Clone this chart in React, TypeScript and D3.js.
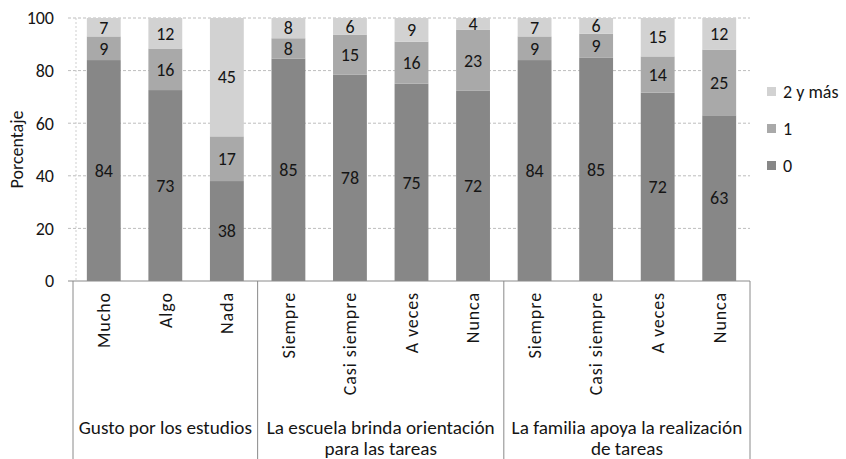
import React, { useRef, useEffect } from 'react';
import * as d3 from 'd3';

// categories and groups
const categories = ['Mucho', 'Algo', 'Nada', 'Siempre', 'Casi siempre', 'A veces', 'Nunca', 'Siempre', 'Casi siempre', 'A veces', 'Nunca'];
const groups = [
  { lines: ['Gusto por los estudios'], span: 3 },
  { lines: ['La escuela brinda orientación', 'para las  tareas'], span: 4 },
  { lines: ['La familia apoya la realización', 'de tareas'], span: 4 },
];
const seriesNames = ['0', '1', '2 y más'];
// percentages (labels show the rounded value)
const values0 = [84, 72.6, 38, 84.6, 78.4, 75, 72.3, 84, 85, 71.6, 63];
const values1 = [9, 15.8, 17, 7.7, 15.3, 16, 23.3, 9, 9, 13.8, 25];
const values2 = [7, 11.6, 45, 7.7, 6.3, 9, 4.4, 7, 6, 14.6, 12];
const yTicks = [0, 20, 40, 60, 80, 100];

const colors = ['#878787', '#a9a9a9', '#d2d2d2'];
const font = 'Carlito, Lato, "Open Sans", sans-serif';
const ink = '#151515';

const App = () => {
  const svgRef = useRef<SVGSVGElement>(null);

  useEffect(() => {
    const svg = d3.select(svgRef.current);
    svg.selectAll('*').remove();

    const left = 73, right = 750, top = 18, bottom = 281;
    const idx = categories.map((_, i) => i);
    const x = d3.scaleBand<number>().domain(idx).range([left, right]).paddingInner(0.45).paddingOuter(0.225);
    const step = x.step();
    const y = d3.scaleLinear().domain([0, 100]).range([bottom, top]).clamp(true);

    // gridlines
    svg.append('g').selectAll('line').data(yTicks.filter(t => t > 0)).enter().append('line')
      .attr('x1', left - 5).attr('x2', right)
      .attr('y1', d => y(d)).attr('y2', d => y(d))
      .attr('stroke', '#bdbdbd').attr('stroke-dasharray', '3,2');

    // inner dotted axis line
    svg.append('line').attr('x1', left + 3).attr('x2', left + 3).attr('y1', top).attr('y2', bottom)
      .attr('stroke', '#cfcfcf').attr('stroke-dasharray', '2,2');

    // y tick labels
    svg.append('g').selectAll('text').data(yTicks).enter().append('text')
      .attr('x', 54).attr('y', d => y(d)).attr('dy', '0.35em')
      .attr('text-anchor', 'end').attr('font-size', 18).attr('fill', ink).attr('font-family', font)
      .text(d => d);

    svg.append('text').attr('transform', `translate(17,${(top + bottom) / 2}) rotate(-90)`)
      .attr('text-anchor', 'middle').attr('dy', '0.35em').attr('font-size', 18).attr('fill', ink)
      .attr('font-family', font).text('Porcentaje');

    // stacked bars
    const rows = idx.map(i => ({ i, s0: values0[i], s1: values1[i], s2: values2[i] }));
    const stack = d3.stack<any>().keys(['s0', 's1', 's2'])(rows);
    stack.forEach((layer, k) => {
      const g = svg.append('g');
      g.selectAll('rect').data(layer).enter().append('rect')
        .attr('x', d => x(d.data.i)!)
        .attr('width', x.bandwidth())
        .attr('y', d => y(d[1]))
        .attr('height', d => y(d[0]) - y(d[1]))
        .attr('fill', colors[k]);
      g.selectAll('text').data(layer).enter().append('text')
        .attr('x', d => x(d.data.i)! + x.bandwidth() / 2)
        .attr('y', d => (y(d[0]) + y(d[1])) / 2)
        .attr('dy', '0.35em').attr('text-anchor', 'middle')
        .attr('font-size', 18).attr('fill', ink).attr('font-family', font)
        .text(d => Math.round(d[1] - d[0]));
    });

    // bottom axis
    svg.append('line').attr('x1', left - 5).attr('x2', right).attr('y1', bottom).attr('y2', bottom)
      .attr('stroke', '#8a8a8a');

    // category labels
    svg.append('g').selectAll('text').data(idx).enter().append('text')
      .attr('transform', i => `translate(${x(i)! + x.bandwidth() / 2},292) rotate(-90)`)
      .attr('text-anchor', 'end').attr('dy', '0.35em')
      .attr('font-size', 18).attr('letter-spacing', 0.9).attr('fill', ink).attr('font-family', font)
      .text(i => categories[i]);

    // group separators and labels
    let start = 0;
    const bounds = [left];
    groups.forEach(gr => {
      const x0 = left + start * step;
      const x1 = left + (start + gr.span) * step;
      bounds.push(x1);
      gr.lines.forEach((ln, j) => {
        svg.append('text').attr('x', (x0 + x1) / 2).attr('y', 427 + j * 21)
          .attr('dy', '0.35em').attr('text-anchor', 'middle')
          .attr('font-size', 19.2).attr('fill', ink).attr('font-family', font)
          .text(ln);
      });
      start += gr.span;
    });
    svg.append('g').selectAll('line').data(bounds).enter().append('line')
      .attr('x1', d => d).attr('x2', d => d).attr('y1', bottom).attr('y2', 459)
      .attr('stroke', '#8a8a8a');

    // legend
    const legend = [2, 1, 0];
    const lg = svg.append('g').selectAll('g').data(legend).enter().append('g')
      .attr('transform', (_, j) => `translate(767,${92 + j * 37})`);
    lg.append('rect').attr('x', 0).attr('y', -5).attr('width', 9).attr('height', 9).attr('fill', k => colors[k]);
    lg.append('text').attr('x', 16).attr('dy', '0.35em').attr('font-size', 18).attr('fill', ink)
      .attr('font-family', font).text(k => seriesNames[k]);
  }, []);

  return (
    <svg ref={svgRef} width={846} height={459} style={{ position: 'absolute', left: 0, top: 0, background: '#fff' }} />
  );
};

export default App;
